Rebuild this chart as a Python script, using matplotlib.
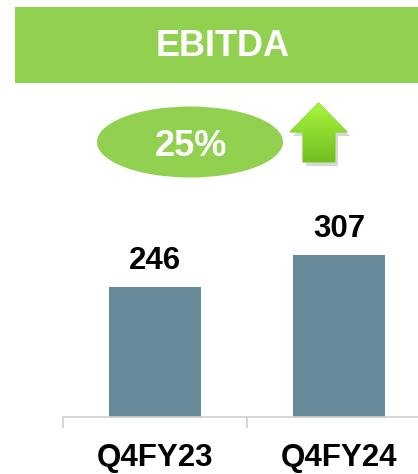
import numpy as np
import matplotlib
matplotlib.use('Agg')
import matplotlib.pyplot as plt
from matplotlib.patches import Rectangle, Ellipse, Polygon

plt.rcParams['font.family'] = ['Liberation Sans', 'DejaVu Sans']

# data
quarters = ['Q4FY23', 'Q4FY24']
ebitda = [246, 307]
growth = '25%'
title = 'EBITDA'

W, H = 418, 474
fig = plt.figure(figsize=(W / 100, H / 100), dpi=100)

# background layer in pixel coords for the banner / ellipse / arrow
bg = fig.add_axes([0, 0, 1, 1])
bg.set_xlim(0, W)
bg.set_ylim(H, 0)
bg.axis('off')

green = '#92D050'
bg.add_patch(Rectangle((15, 7), W - 15, 76, color=green, lw=0))
bg.text(223, 46, title, color='white', fontsize=26, fontweight='bold',
        ha='center', va='center')

bg.add_patch(Ellipse((190, 142), 186, 71, color=green, lw=0))
bg.text(191, 146, growth, color='white', fontsize=26, fontweight='bold',
        ha='center', va='center')

# up arrow with a soft shadow and vertical gradient
arrow_pts = [(303, 162), (303, 132), (290, 132), (318.5, 103),
             (347, 132), (335, 132), (335, 162)]
shadow = Polygon([(x + 3, y + 4) for x, y in arrow_pts], closed=True,
                 color='#b0b0b0', alpha=0.5, lw=0)
bg.add_patch(shadow)
arrow = Polygon(arrow_pts, closed=True, facecolor='none', edgecolor='#8fd640', lw=1)
bg.add_patch(arrow)
grad = np.linspace(0, 1, 100).reshape(-1, 1)
cmap = matplotlib.colors.LinearSegmentedColormap.from_list('g', ['#a6f53c', '#74be22'])
im = bg.imshow(grad, extent=(290, 347, 162, 103), cmap=cmap, aspect='auto', zorder=2)
im.set_clip_path(arrow)
bg.set_xlim(0, W)
bg.set_ylim(H, 0)

# bar chart
ax = fig.add_axes([63 / W, (H - 417) / H, 368 / W, 211.2 / H])
x = np.arange(len(quarters))
ax.bar(x, ebitda, width=0.5, color='#688B9A')
for xi, v in zip(x, ebitda):
    ax.annotate(str(v), (xi, v), xytext=(0, 8), textcoords='offset points',
                ha='center', va='bottom', fontsize=22.5, fontweight='bold')
ax.set_xlim(-0.5, 1.5)
ax.set_ylim(0, 400)
ax.set_xticks([-0.5, 0.5, 1.5])
ax.set_xticklabels([])
ax.set_xticks(x, minor=True)
ax.set_xticklabels(quarters, minor=True, fontsize=22.5, fontweight='bold')
ax.tick_params(axis='x', which='major', length=8, color='#d0d0d0', width=1.2)
ax.tick_params(axis='x', which='minor', length=0, pad=19)
ax.set_yticks([])
for s in ['top', 'right', 'left']:
    ax.spines[s].set_visible(False)
ax.spines['bottom'].set_color('#d0d0d0')
ax.spines['bottom'].set_linewidth(1.2)
ax.patch.set_alpha(0)

fig.savefig('out.png', dpi=100)
